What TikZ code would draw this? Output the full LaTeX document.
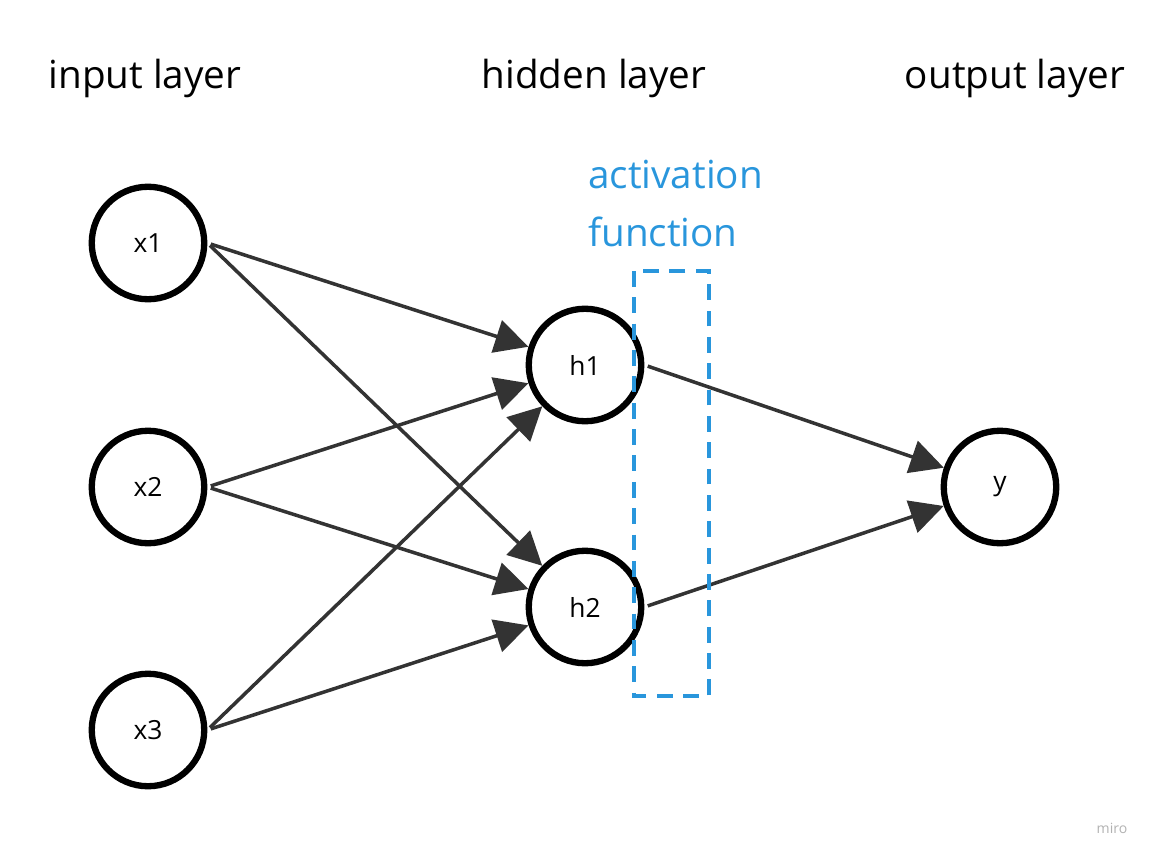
\documentclass[tikz,border=0pt]{standalone}
\usepackage{fontspec}
\setmainfont{Open Sans}
\usepackage{tikz}
\usetikzlibrary{arrows.meta}
\definecolor{edge}{RGB}{51,51,51}
\definecolor{actblue}{RGB}{41,150,220}

\begin{document}
\begin{tikzpicture}[x=0.02cm, y=-0.02cm,
		neuron/.style={draw=black, line width=3.6pt, circle, minimum size=2.25cm, font=\fontsize{15}{18}\selectfont},
		conn/.style={draw=edge, line width=2pt, -{Triangle[length=19pt, width=19pt]}, shorten <=2pt},
		layer/.style={font=\fontsize{22}{26}\selectfont}]
		\useasboundingbox (0,0) rectangle (1160,862);
		\node[layer] (inlab) at (145,78) {input layer};
		\node[layer] (hidlab) at (594,78) {hidden layer};
		\node[layer] (outlab) at (1015,78) {output layer};
		\node[neuron] (x1) at (148,243) {x1};
		\node[neuron] (x2) at (148,487) {x2};
		\node[neuron] (x3) at (148,730) {x3};
		\node[neuron] (h1) at (585,365) {h1};
		\node[neuron] (h2) at (585,607) {h2};
		\node[neuron] (y) at (1000,487) {y};
		\foreach \s in {x1,x2,x3}{
			\foreach \t in {h1,h2}{
				\draw[conn] (\s.east) -- (\t);
			}
		}
		\draw[conn] (h1.east) -- (y);
		\draw[conn] (h2.east) -- (y);
		% activation function box
		\draw[actblue, line width=1.9pt, dash pattern=on 9pt off 6pt] (634,271) rectangle (709,696);
		\node[actblue, font=\fontsize{22}{33}\selectfont, align=left, anchor=north west] (act) at (582,154) {activation\\function};
		\node[gray!60, font=\fontsize{8}{9}\selectfont] (miro) at (1112,828) {miro};
	\end{tikzpicture}
\end{document}
